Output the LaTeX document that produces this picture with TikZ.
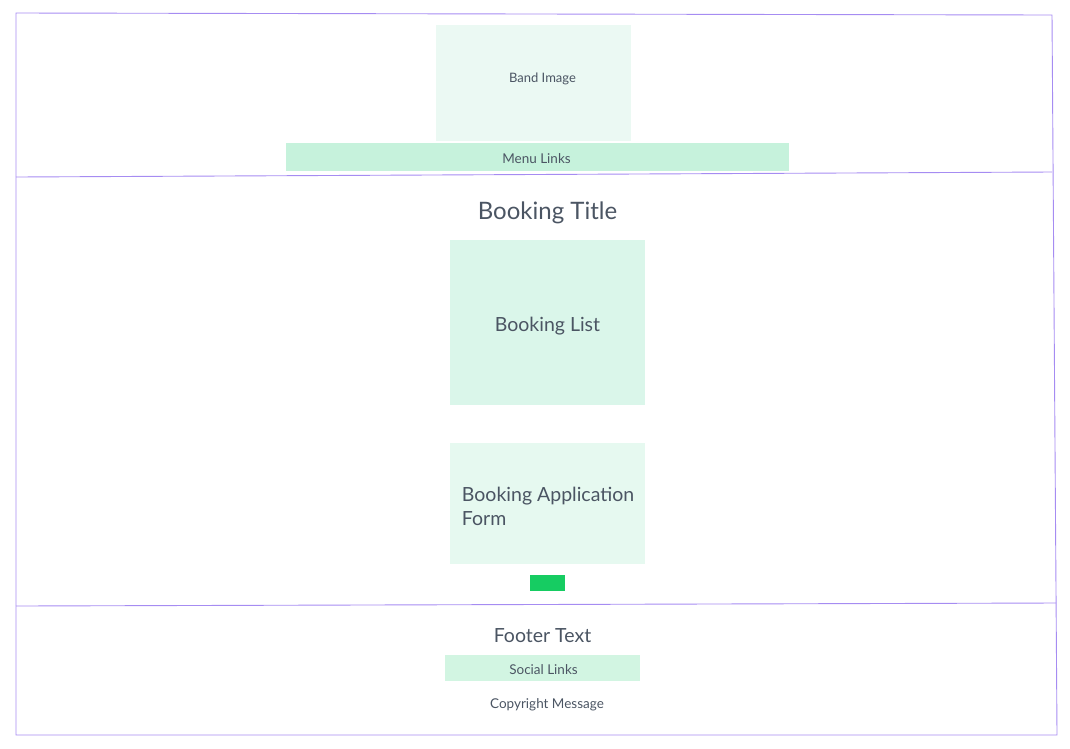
\documentclass[tikz,border=0pt]{standalone}
\usepackage{fontspec}
\setmainfont{Lato}
\usetikzlibrary{positioning}
\definecolor{frameline}{HTML}{A68CF2}
\definecolor{ink}{HTML}{4B5563}
\definecolor{bandfill}{HTML}{EBF9F3}
\definecolor{menufill}{HTML}{C6F2DC}
\definecolor{listfill}{HTML}{DAF6EA}
\definecolor{formfill}{HTML}{E6F9F0}
\definecolor{socialfill}{HTML}{D2F5E2}
\definecolor{buttonfill}{HTML}{16CC62}

\begin{document}
\begin{tikzpicture}[x=1pt,y=-1pt,
  frame/.style={draw=frameline,line width=0.9pt},
  block/.style={inner sep=0pt,outer sep=0pt,anchor=center},
  label/.style={text=ink,inner sep=0.75pt}]
\useasboundingbox (0,0) rectangle (1070,748);
%Frame
\draw [frame] (16,13) -- (1052,15) -- (1057,735) -- (16,735) -- cycle;
\draw [frame] (16,177) -- (1052,172);
\draw [frame] (16,606) -- (1056,603);
%Header
\node [block,fill=bandfill,minimum width=195,minimum height=116] (band) at (533.5,83) {};
\node [block,fill=menufill,minimum width=503,minimum height=28] (menu) at (537.5,157) {};
\node [label,font=\fontsize{13}{16}\selectfont] (bandtext) at (542.5,78.5) {Band Image};
\node [label,font=\fontsize{13.5}{16}\selectfont] (menutext) at (536.5,159) {Menu Links};
%Booking
\node [label,font=\fontsize{24}{29}\selectfont] (title) at (547.5,213) {Booking Title};
\node [block,fill=listfill,minimum width=195,minimum height=165] (list) at (547.5,322.5) {};
\node [label,font=\fontsize{19.5}{24}\selectfont] (listtext) at (547.5,326) {Booking List};
\node [block,fill=formfill,minimum width=195,minimum height=121] (form) at (547.5,503.5) {};
\node [label,font=\fontsize{19.5}{24}\selectfont,align=left,anchor=west] (formtext) at (461,506) {Booking Application\\Form};
\node [block,fill=buttonfill,minimum width=35,minimum height=16] (button) at (547.5,583) {};
%Footer
\node [label,font=\fontsize{19.5}{24}\selectfont] (footer) at (542.5,635.5) {Footer Text};
\node [block,fill=socialfill,minimum width=195,minimum height=26] (social) at (542.5,668) {};
\node [label,font=\fontsize{13.5}{16}\selectfont] (socialtext) at (543.5,669.5) {Social Links};
\node [label,font=\fontsize{13.5}{16}\selectfont] (copyright) at (547,704.5) {Copyright Message};
\end{tikzpicture}
\end{document}
